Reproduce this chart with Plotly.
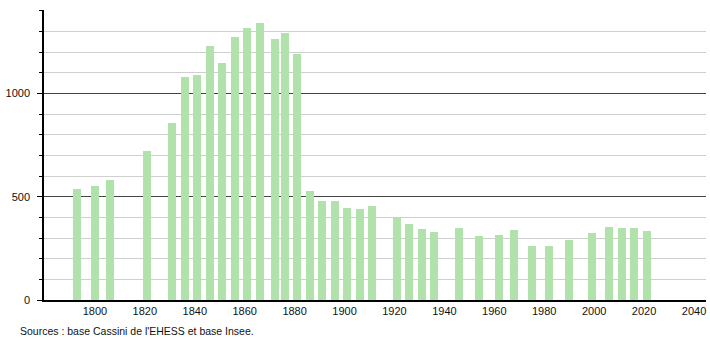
import plotly.graph_objects as go

years = [1793, 1800, 1806, 1821, 1831, 1836, 1841, 1846, 1851, 1856, 1861, 1866,
         1872, 1876, 1881, 1886, 1891, 1896, 1901, 1906, 1911, 1921, 1926, 1931,
         1936, 1946, 1954, 1962, 1968, 1975, 1982, 1990, 1999, 2006, 2011, 2016, 2021]
population = [537, 552, 581, 721, 855, 1080, 1090, 1230, 1148, 1274, 1319, 1340,
              1262, 1295, 1191, 528, 479, 479, 447, 441, 455, 396, 370, 344,
              331, 349, 310, 315, 339, 261, 261, 290, 324, 353, 347, 347, 334]
x_ticks = [1800, 1820, 1840, 1860, 1880, 1900, 1920, 1940, 1960, 1980, 2000, 2020, 2040]
y_ticks = [0, 500, 1000]
source_text = "Sources : base Cassini de l'EHESS et base Insee."

fig = go.Figure(go.Bar(
    x=years, y=population, width=3.2,
    marker=dict(color="rgb(178,226,172)", line=dict(width=0)),
    hoverinfo="x+y",
))

fig.update_layout(
    width=710, height=340,
    margin=dict(l=44, r=4, t=10, b=40),
    paper_bgcolor="white", plot_bgcolor="white",
    font=dict(family="Liberation Sans, Arial, sans-serif", size=11, color="#111"),
    showlegend=False,
    bargap=0,
)
fig.update_xaxes(
    range=[1779.6, 2044.8], tickvals=x_ticks, showgrid=False, automargin=False,
    showline=True, linecolor="black", linewidth=1.5, ticks="", zeroline=False,
    tickfont=dict(size=11),
)
fig.update_yaxes(
    range=[0, 1404], tickvals=y_ticks, showgrid=True, gridcolor="#444", gridwidth=1,
    showline=True, linecolor="black", linewidth=1.5, ticks="outside", ticklen=5,
    tickcolor="black", zeroline=False, tickfont=dict(size=11), automargin=False,
    ticklabelstandoff=5,
    minor=dict(dtick=100, showgrid=True, gridcolor="#cfcfcf", gridwidth=1,
               ticks="outside", ticklen=3, tickcolor="black"),
)
fig.add_annotation(
    text=source_text, xref="paper", yref="paper", x=-0.04, y=-0.078,
    xanchor="left", yanchor="top", showarrow=False, font=dict(size=10.5, color="#111"),
)
fig.write_html("out.html")
